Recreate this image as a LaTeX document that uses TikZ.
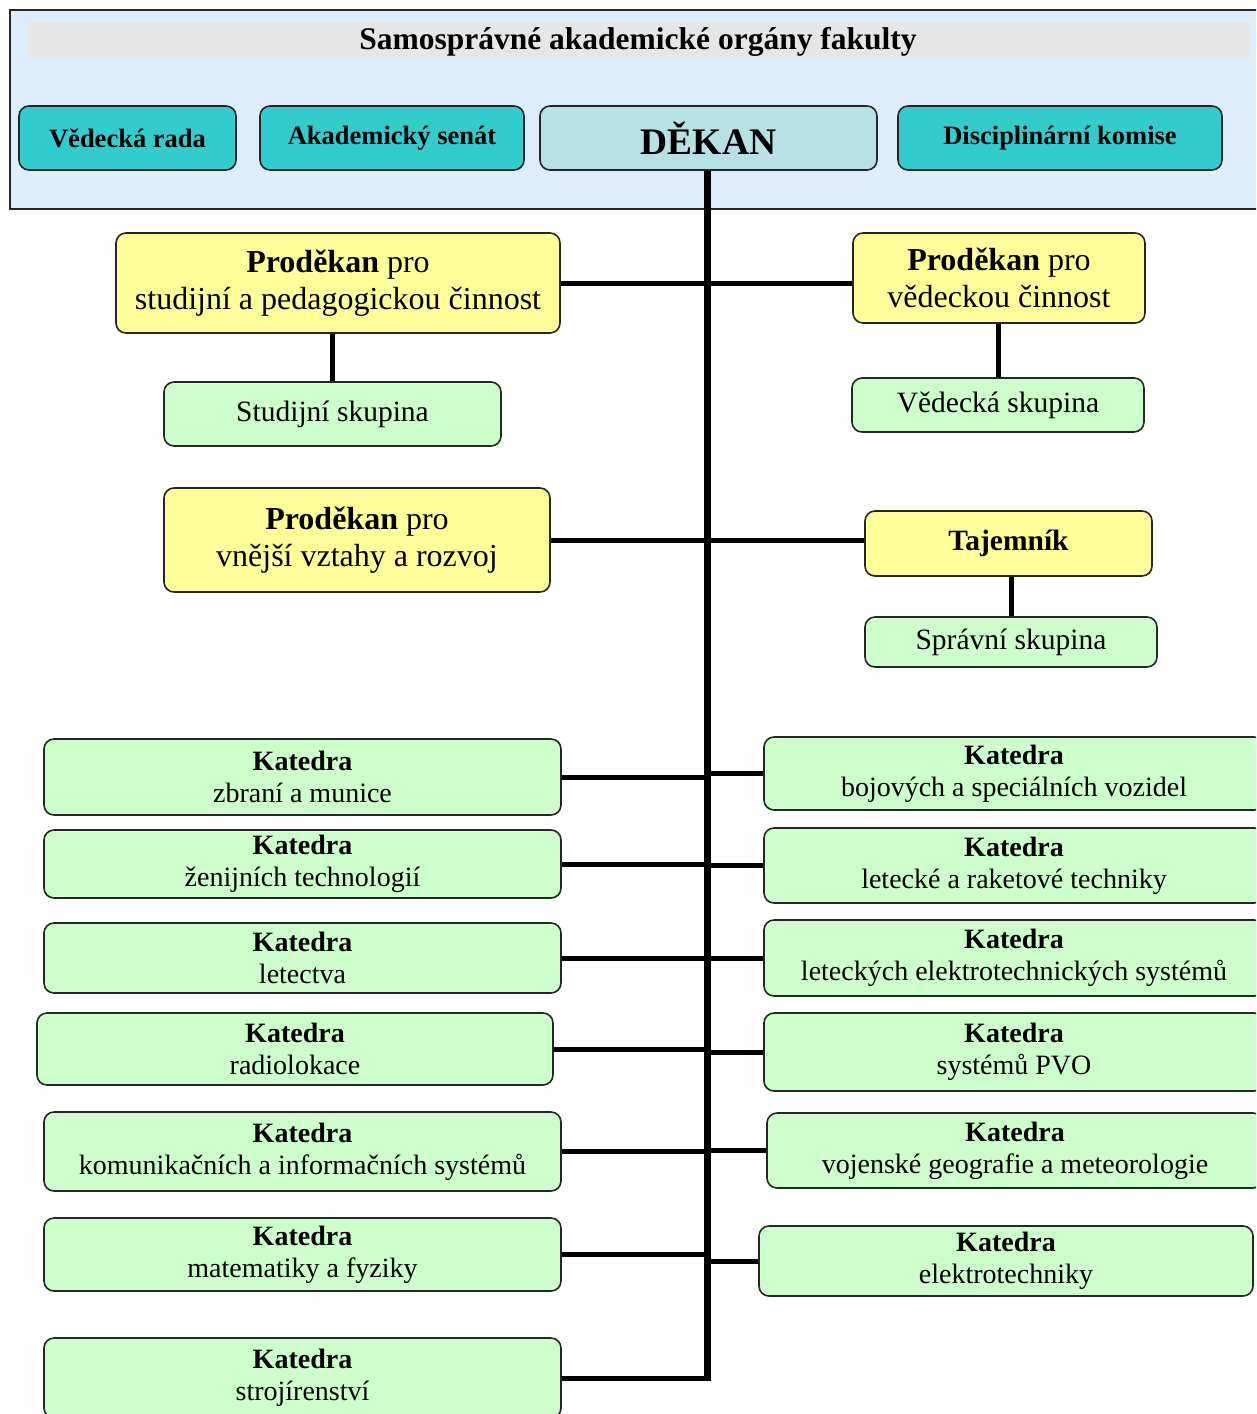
\documentclass[tikz,border=0pt]{standalone}
\usepackage{fontspec}
\setmainfont{Liberation Serif}
\begin{document}
\begin{tikzpicture}[x=1pt,y=-1pt,
  box/.style={draw=black!85, line width=1.6pt, rounded corners=10pt, align=center, inner sep=0pt},
  hdr/.style={box, fill=tealc, font=\fontsize{26.5}{30}\selectfont\bfseries},
  prod/.style={box, fill=yelc, font=\fontsize{32}{37}\selectfont},
  grp/.style={box, fill=grnc, font=\fontsize{29.5}{33}\selectfont},
  kat/.style={box, fill=grnc, font=\fontsize{28}{32}\selectfont},
  conn/.style={line width=5pt},
  spineline/.style={line width=7pt}]
\definecolor{tealc}{HTML}{33CCCC}
\definecolor{dekc}{HTML}{B8E1E4}
\definecolor{yelc}{HTML}{FFFF99}
\definecolor{grnc}{HTML}{CCFFCC}
\definecolor{outerc}{HTML}{DDEDFC}
\definecolor{bandc}{HTML}{E6E6E6}
\newcommand{\Kat}[1]{{\bfseries Katedra}\\#1}
\clip (0,0) rectangle (1256,1414);
\fill[white] (0,0) rectangle (1256,1414);
% top panel
\node[draw=black!85, line width=1.6pt, fill=outerc, minimum width=1262pt, minimum height=199pt, inner sep=0pt] (panel) at (641,109.5) {};
\node[fill=bandc, minimum width=1222pt, minimum height=35pt, inner sep=0pt] (band) at (639,39.5) {};
\node[font=\fontsize{31.5}{34}\selectfont\bfseries] (title) at (638,42) {Samosprávné akademické orgány fakulty};
\node[hdr, minimum width=217pt, minimum height=64pt] (vr) at (127.5,138) {Vědecká rada};
\node[hdr, minimum width=264pt, minimum height=64pt] (as) at (392,138) {Akademický senát};
\node[box, fill=dekc, minimum width=337pt, minimum height=64pt, font=\fontsize{37.5}{40}\selectfont\bfseries] (dekan) at (708.5,138) {DĚKAN};
\node[hdr, minimum width=324pt, minimum height=64pt] (dk) at (1060,138) {Disciplinární komise};
% prodekani
\node[prod, minimum width=444pt, minimum height=100pt] (ps) at (338,283) {{\bfseries Proděkan} pro\\studijní a pedagogickou činnost};
\node[prod, minimum width=292pt, minimum height=90pt] (pv) at (999,278) {{\bfseries Proděkan} pro\\vědeckou činnost};
\node[grp, minimum width=337pt, minimum height=64pt] (ss) at (332.5,414) {Studijní skupina};
\node[grp, minimum width=292pt, minimum height=54pt] (vs) at (998,405) {Vědecká skupina};
\node[prod, minimum width=386pt, minimum height=104pt] (pz) at (357,540) {{\bfseries Proděkan} pro\\vnější vztahy a rozvoj};
\node[prod, minimum width=287pt, minimum height=65pt, font=\fontsize{29.5}{33}\selectfont\bfseries] (taj) at (1008.5,543.5) {Tajemník};
\node[grp, minimum width=292pt, minimum height=50pt] (sp) at (1011,642) {Správní skupina};
% katedry left
\node[kat, minimum width=517pt, minimum height=76pt] (l1) at (302.5,777) {\Kat{zbraní a munice}};
\node[kat, minimum width=517pt, minimum height=68pt] (l2) at (302.5,864) {\Kat{ženijních technologií}};
\node[kat, minimum width=517pt, minimum height=70pt] (l3) at (302.5,958) {\Kat{letectva}};
\node[kat, minimum width=516pt, minimum height=72pt] (l4) at (295,1049) {\Kat{radiolokace}};
\node[kat, minimum width=517pt, minimum height=79pt] (l5) at (302.5,1151.5) {\Kat{komunikačních a informačních systémů}};
\node[kat, minimum width=517pt, minimum height=73pt] (l6) at (302.5,1254.5) {\Kat{matematiky a fyziky}};
\node[kat, minimum width=517pt, minimum height=80pt] (l7) at (302.5,1378) {\Kat{strojírenství}};
% katedry right
\node[kat, minimum width=500pt, minimum height=73pt] (r1) at (1014,773.5) {\Kat{bojových a speciálních vozidel}};
\node[kat, minimum width=500pt, minimum height=75pt] (r2) at (1014,865.5) {\Kat{letecké a raketové techniky}};
\node[kat, minimum width=500pt, minimum height=76pt] (r3) at (1014,958) {\Kat{leteckých elektrotechnických systémů}};
\node[kat, minimum width=500pt, minimum height=78pt] (r4) at (1014,1052) {\Kat{systémů PVO}};
\node[kat, minimum width=496pt, minimum height=75pt] (r5) at (1015,1150.5) {\Kat{vojenské geografie a meteorologie}};
\node[kat, minimum width=494pt, minimum height=70pt] (r6) at (1006,1261) {\Kat{elektrotechniky}};
% connectors
\coordinate (spinebot) at (707,1378);
\draw[spineline] (dekan.south -| spinebot) -- (spinebot);
\draw[conn] (ps.east) -- (ps.east -| pv.west);
\draw[conn] (ps.south -| ss.north) -- (ss.north);
\draw[conn] (pv.south -| vs.north) -- (vs.north);
\draw[conn] (pz.east) -- (pz.east -| taj.west);
\draw[conn] (taj.south -| sp.north) -- (sp.north);
\foreach \n in {l1,l2,l3,l4,l5,l6} {\draw[conn] (\n.east) -- (\n.east -| spinebot);}
\draw[conn] (l7.east |- spinebot) -- ([xshift=3.5pt]spinebot);
\foreach \n in {r1,r2,r3,r4,r5,r6} {\draw[conn] (\n.west -| spinebot) -- (\n.west);}
\end{tikzpicture}
\end{document}
